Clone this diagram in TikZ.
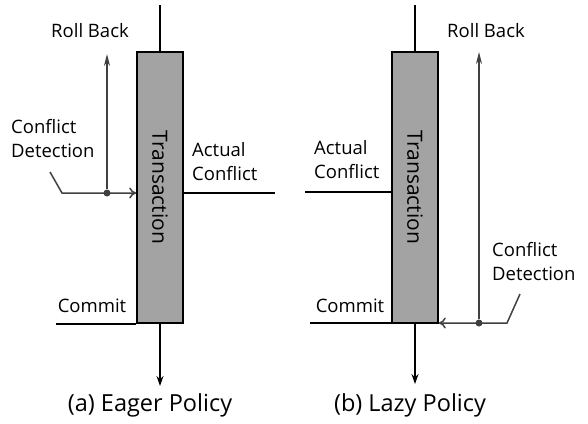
\documentclass[tikz,border=0pt]{standalone}
\usepackage{fontspec}
\setmainfont{Open Sans}
\usetikzlibrary{arrows.meta,positioning,calc}

\begin{document}
\begin{tikzpicture}[
  x=1pt, y=-1pt,
  txbox/.style={draw, line width=1.6pt, fill=black!36, rotate=-90,
                minimum width=271pt, minimum height=46pt, inner sep=0pt,
                font=\fontsize{21}{24}\selectfont},
  lbl/.style={font=\fontsize{18.5}{24}\selectfont, align=left, inner sep=0pt},
  captxt/.style={font=\fontsize{23.5}{26}\selectfont, inner sep=0pt},
  wire/.style={line width=1.6pt},
  arr/.style={line width=1.6pt, -{Stealth[length=10pt, width=7pt]}},
  rollarr/.style={line width=1.5pt, black!75, -{Stealth[length=12pt, width=6pt]}},
  detect/.style={line width=1.5pt, black!75, -{To[length=7pt, width=11pt, line width=1.5pt]}},
  dot/.style={circle, fill=black!75, inner sep=0pt, minimum size=7pt}
]
\useasboundingbox (0,0) rectangle (588,423);

% (a) Eager policy
\node[txbox] (ta) at (160,187.5) {Transaction};
\coordinate (atop) at (160,5);
\coordinate (abot) at (160,386);
\draw[wire] (atop) -- (ta.west);
\draw[arr] (ta.east) -- (abot);

\coordinate (acd1) at (50,172);
\coordinate (acd2) at (62,193);
\node[dot] (adot) at (107,193) {};
\coordinate (arb) at (107,54);
\draw[detect] (acd1) -- (acd2) -- (acd2 -| ta.south);
\draw[rollarr] (adot) -- (arb);
\node[lbl] (arbl) at (90,31) {Roll Back};
\node[lbl, anchor=west] (acdl) at (11,139) {Conflict\\Detection};

\coordinate (aac) at (275,193);
\draw[wire] (aac -| ta.north) -- (aac);
\node[lbl, anchor=west] (aacl) at (192,162) {Actual\\Conflict};

\coordinate (acm) at (56,324);
\draw[wire] (acm) -- (acm -| ta.south);
\node[lbl] (acml) at (92,306) {Commit};

\node[captxt] (acap) at (150,405) {(a) Eager Policy};

% (b) Lazy policy
\node[txbox] (tb) at (415,187.5) {Transaction};
\coordinate (btop) at (415,5);
\coordinate (bbot) at (415,384);
\draw[wire] (btop) -- (tb.west);
\draw[arr] (tb.east) -- (bbot);

\coordinate (bcd1) at (520,294);
\coordinate (bcd2) at (507,323);
\node[dot] (bdot) at (479,323) {};
\coordinate (brb) at (479,52);
\draw[detect] (bcd1) -- (bcd2) -- (bcd2 -| tb.north);
\draw[rollarr] (bdot) -- (brb);
\node[lbl] (brbl) at (486,31) {Roll Back};
\node[lbl, anchor=west] (bcdl) at (492,262) {Conflict\\Detection};

\coordinate (bac) at (305,192);
\draw[wire] (bac) -- (bac -| tb.south);
\node[lbl, anchor=west] (bacl) at (314,160) {Actual\\Conflict};

\coordinate (bcm) at (310,323);
\draw[wire] (bcm) -- (bcm -| tb.south);
\node[lbl] (bcml) at (350,306) {Commit};

\node[captxt] (bcap) at (410,405) {(b) Lazy Policy};

\end{tikzpicture}
\end{document}
